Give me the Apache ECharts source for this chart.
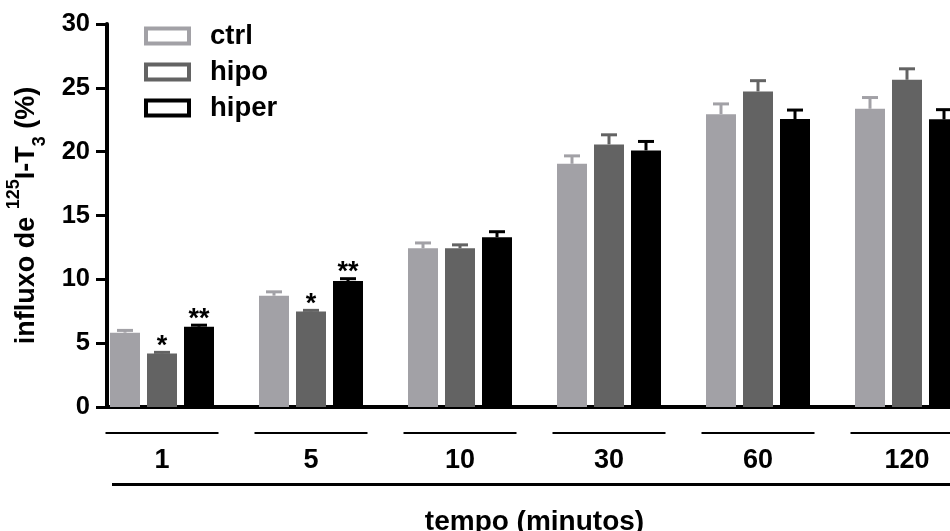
<!DOCTYPE html>
<html>
<head>
<meta charset="utf-8">
<script src="https://cdn.jsdelivr.net/npm/echarts@6/dist/echarts.min.js"></script>
<style>html,body{margin:0;padding:0;background:#fff}#c{width:950px;height:531px}</style>
</head>
<body>
<div id="c"></div>
<script>
// ---- data ----
const categories = ['1', '5', '10', '30', '60', '120'];
const seriesNames = ['ctrl', 'hipo', 'hiper'];
const ctrlMean  = [5.82, 8.72, 12.43, 19.05, 22.94, 23.36];
const ctrlSem   = [0.18, 0.30, 0.42, 0.62, 0.80, 0.88];
const hipoMean  = [4.20, 7.49, 12.43, 20.57, 24.72, 25.63];
const hipoSem   = [0.08, 0.08, 0.27, 0.75, 0.84, 0.86];
const hiperMean = [6.29, 9.87, 13.30, 20.10, 22.55, 22.53];
const hiperSem  = [0.12, 0.18, 0.43, 0.70, 0.71, 0.76];
const ctrlSig   = ['', '', '', '', '', ''];
const hipoSig   = ['*', '*', '', '', '', ''];
const hiperSig  = ['**', '**', '', '', '', ''];
const yMin = 0, yMax = 30, yStep = 5;
const yTitle = '{a|influxo de }{s|125}{a|I-T}{b|3}{a| (%)}';
const xTitle = 'tempo (minutos)';

// ---- style ----
const FONT = "'Liberation Sans', Arial, Helvetica, sans-serif";
const COLORS = ['#a2a1a6', '#636363', '#000000'];
const BAR_W = 30, BAR_GAP = 7;

const chart = echarts.init(document.getElementById('c'), null, {renderer: 'canvas'});

function errSeries(k, means, sems, sig) {
  const color = COLORS[k];
  return {
    type: 'custom', name: seriesNames[k] + ' err', xAxisIndex: 0, yAxisIndex: 0,
    z: 5, silent: true, clip: false,
    data: means.map((m, i) => [i, m, m + sems[i]]),
    renderItem(params, api) {
      const i = api.value(0);
      const base = api.coord([i, api.value(1)]);
      const top = api.coord([i, api.value(2)]);
      const x = base[0] + (k - 1) * (BAR_W + BAR_GAP);
      const children = [
        {type: 'line', shape: {x1: x, y1: base[1], x2: x, y2: top[1]}, style: {stroke: color, lineWidth: 3}},
        {type: 'line', shape: {x1: x - 8, y1: top[1], x2: x + 8, y2: top[1]}, style: {stroke: color, lineWidth: 3}}
      ];
      const s = sig[params.dataIndex];
      if (s) {
        children.push({type: 'text', x: x, y: top[1] - 6,
          style: {text: s, align: 'center', verticalAlign: 'middle', fill: '#000',
                  fontSize: 27, fontWeight: 'bold', fontFamily: FONT}});
      }
      return {type: 'group', children};
    }
  };
}

const means = [ctrlMean, hipoMean, hiperMean];
const sems = [ctrlSem, hipoSem, hiperSem];
const sigs = [ctrlSig, hipoSig, hiperSig];

const option = {
  animation: false,
  backgroundColor: '#fff',
  grid: [
    {left: 87.5, right: -31.5, top: 24, bottom: 124, containLabel: false, outerBoundsMode: 'none'},
    {left: 107, right: -31.5, top: 24, bottom: 124, containLabel: false, outerBoundsMode: 'none'}
  ],
  legend: {
    orient: 'vertical', left: 144, top: 22, padding: 0, itemWidth: 43, itemHeight: 15, itemGap: 8,
    icon: 'rect', selectedMode: false,
    textStyle: {fontSize: 27.5, fontWeight: 'bold', fontFamily: FONT, color: '#000', lineHeight: 27, padding: [0, 0, 0, 16]},
    data: seriesNames.map((n, k) => ({name: n, itemStyle: {color: '#fff', borderColor: COLORS[k], borderWidth: 4}}))
  },
  xAxis: [
    {
      type: 'category', gridIndex: 0, data: categories,
      axisLine: {show: false}, axisTick: {show: false}, splitLine: {show: false},
      axisLabel: {
        interval: 0, margin: 25,
        formatter: v => '{ln|}\n{v|' + v + '}',
        rich: {
          ln: {width: 113, height: 2, lineHeight: 2, backgroundColor: '#000', align: 'center'},
          v: {fontSize: 27, fontWeight: 'bold', fontFamily: FONT, color: '#000', lineHeight: 54, align: 'center'}
        }
      },
      name: '{ln|}\n{t|' + xTitle + '}', nameLocation: 'middle', nameGap: 76, nameMoveOverlap: false,
      nameTextStyle: {
        rich: {
          ln: {width: 845, height: 3, lineHeight: 3, backgroundColor: '#000', align: 'center'},
          t: {fontSize: 28, fontWeight: 'bold', fontFamily: FONT, color: '#000', lineHeight: 72, align: 'center'}
        }
      }
    },
    {
      type: 'value', gridIndex: 1, min: 0, max: 1,
      axisLine: {show: true, onZero: false, lineStyle: {color: '#000', width: 4}},
      axisTick: {show: false}, axisLabel: {show: false}, splitLine: {show: false}
    }
  ],
  yAxis: [
    {type: 'value', gridIndex: 0, min: yMin, max: yMax, interval: yStep, show: false},
    {
      type: 'value', gridIndex: 1, min: yMin, max: yMax, interval: yStep,
      axisLine: {show: true, lineStyle: {color: '#000', width: 4}},
      axisTick: {show: true, inside: false, length: 11, lineStyle: {color: '#000', width: 3}},
      splitLine: {show: false},
      axisLabel: {fontSize: 25.5, fontWeight: 'bold', fontFamily: FONT, color: '#000', margin: 17},
      name: yTitle, nameLocation: 'middle', nameGap: 58, nameRotate: 90, nameMoveOverlap: false,
      nameTextStyle: {
        rich: {
          a: {fontSize: 27, fontWeight: 'bold', fontFamily: FONT, color: '#000', lineHeight: 44},
          s: {fontSize: 18, fontWeight: 'bold', fontFamily: FONT, color: '#000', lineHeight: 18, verticalAlign: 'top'},
          b: {fontSize: 18, fontWeight: 'bold', fontFamily: FONT, color: '#000', lineHeight: 18, verticalAlign: 'bottom'}
        }
      }
    }
  ],
  series: [
    ...seriesNames.map((n, k) => ({
      type: 'bar', name: n, xAxisIndex: 0, yAxisIndex: 0, data: means[k],
      barWidth: BAR_W, barGap: (BAR_GAP / BAR_W * 100) + '%',
      itemStyle: {color: COLORS[k]}, z: 2, silent: true
    })),
    ...seriesNames.map((n, k) => errSeries(k, means[k], sems[k], sigs[k]))
  ]
};
chart.setOption(option);
</script>
</body>
</html>
